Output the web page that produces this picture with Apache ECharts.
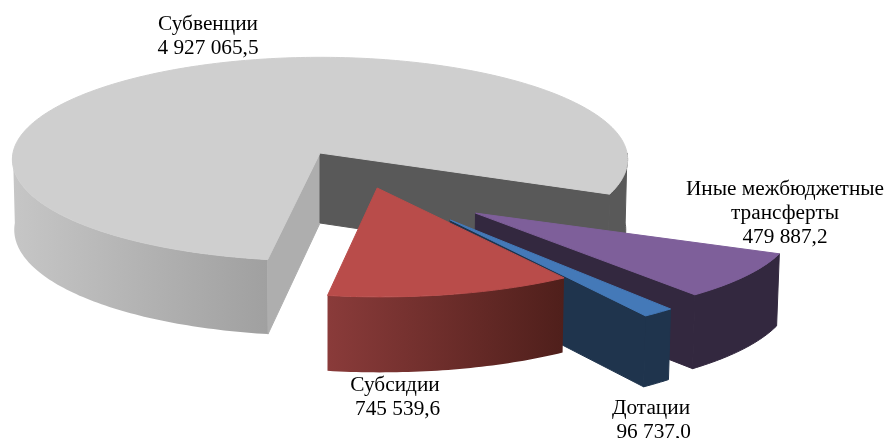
<!DOCTYPE html>
<html>
<head>
<meta charset="utf-8">
<script src="https://cdn.jsdelivr.net/npm/echarts@6/dist/echarts.min.js"></script>
<style>html,body{margin:0;padding:0;background:#fff}#c{width:886px;height:438px}</style>
</head>
<body>
<div id="c"></div>
<script>
// Data
const categories = ['Субвенции', 'Иные межбюджетные\nтрансферты', 'Дотации', 'Субсидии'];
const values = [4927065.5, 479887.2, 96737.0, 745539.6];
const valueLabels = ['4 927 065,5', '479 887,2', '\u00a096 737,0', '\u00a0745 539,6'];

// Appearance
const START_ANGLE = 189.2;           // clockwise from 12 o'clock
const CX = 320, CY = 153, RX = 307, RY = 99.5, DEPTH = 70, KX = 0.06, KY = 0.04, BOTTOM_SHRINK = 0.994;
const explodeX = [0, 150, 125, 56];
const explodeV = [0, 0.59, 0.655, 0.347];
const frontScale = [1.04, 0.98, 1.06, 1.02];
const depthScale = [1, 0.97, 0.92, 0.99];
const topColors = ['#cfcfcf', '#7e5f9a', '#4479b8', '#b94c4a'];
const wallStops = [
  ['#c6c6c6', '#a0a0a0'],
  ['#33283f', '#33283f'],
  ['#1f344d', '#1f344d'],
  ['#8a3b3a', '#4f1f1b']
];
const startFace = ['#aeaeae', '#33283f', '#1f344d', '#4f1f1b'];
const endFace = ['#595959', '#33283f', '#1f344d', '#8a3b3a'];
const backWall = ['#595959', '#33283f', '#1f344d', '#4f1f1b'];
const labelPos = [[208, 36], [785, 213.5], [651, 420], [395, 397]];

const total = values.reduce((a, b) => a + b, 0);
const rad = d => d * Math.PI / 180;

function project(i, u, v, lowered) {
  const vt = (v > 0 ? v * frontScale[i] : v) + explodeV[i];
  const sx = 1 / (1 - KX * vt), sy = 1 / (1 - KY * vt);
  let x = (explodeX[i] + u * RX) * sx;
  let y = RY * vt * sy + (lowered ? DEPTH * depthScale[i] * sx : 0);
  if (lowered) x *= BOTTOM_SHRINK;
  return [CX + x, CY + y];
}
function rim(i, deg, lowered) {
  return project(i, Math.sin(rad(deg)), -Math.cos(rad(deg)), lowered);
}
function arc(i, a, b, lowered) {
  const n = Math.max(2, Math.ceil(Math.abs(b - a)));
  const pts = [];
  for (let k = 0; k <= n; k++) pts.push(rim(i, a + (b - a) * k / n, lowered));
  return pts;
}
function poly(points, fill, z) {
  const solid = typeof fill === 'string';
  return { type: 'polygon', z2: z, shape: { points }, style: { fill, stroke: solid ? fill : null, lineWidth: solid ? 1 : 0 } };
}
function wallFill(i) {
  return new echarts.graphic.LinearGradient(0, 0, 1, 0, [
    { offset: 0, color: wallStops[i][0] }, { offset: 1, color: wallStops[i][1] }
  ]);
}

function renderSlice(params, api) {
  const i = params.dataIndex;
  const base = i * 10;
  let a0 = START_ANGLE;
  for (let k = 0; k < i; k++) a0 += values[k] / total * 360;
  const a1 = a0 + api.value(0) / total * 360;
  const children = [];
  const apex = project(i, 0, 0, false), apexLow = project(i, 0, 0, true);

  // Outer wall on the near half of the rim
  for (let turn = 0; turn <= 1; turn++) {
    const lo = Math.max(a0, 90 + 360 * turn), hi = Math.min(a1, 270 + 360 * turn);
    if (hi > lo) {
      const top = arc(i, lo, hi, false), low = arc(i, lo, hi, true).reverse();
      const isBack = i === 0 && turn === 1;
      const solid = isBack || wallStops[i][0] === wallStops[i][1];
      children.push(poly(top.concat(low), solid ? backWall[i] : wallFill(i), base + 1));
    }
  }
  // Cut faces, only where they turn toward the viewer
  if (Math.cos(rad(a0 - 90)) < 0) {
    children.push(poly([apex, rim(i, a0, false), rim(i, a0, true), apexLow], startFace[i], base + 2));
  }
  if (Math.cos(rad(a1 + 90)) < 0) {
    children.push(poly([apex, rim(i, a1, false), rim(i, a1, true), apexLow], endFace[i], base + 2));
  }
  // Top
  children.push(poly([apex].concat(arc(i, a0, a1, false)), topColors[i], base + 3));
  // Label
  children.push({
    type: 'text', z2: 100,
    style: {
      x: labelPos[i][0], y: labelPos[i][1],
      text: categories[i] + '\n' + valueLabels[i],
      align: 'center', verticalAlign: 'middle',
      font: '21.3px "Liberation Serif"', lineHeight: 24, fill: '#000'
    }
  });
  return { type: 'group', children };
}

const chart = echarts.init(document.getElementById('c'), null, { renderer: 'canvas' });
chart.setOption({
  animation: false,
  backgroundColor: '#fff',
  series: [{
    type: 'custom',
    coordinateSystem: 'none',
    renderItem: renderSlice,
    data: values.map(v => [v]),
    encode: { value: 0 },
    silent: true
  }]
});
</script>
</body>
</html>
